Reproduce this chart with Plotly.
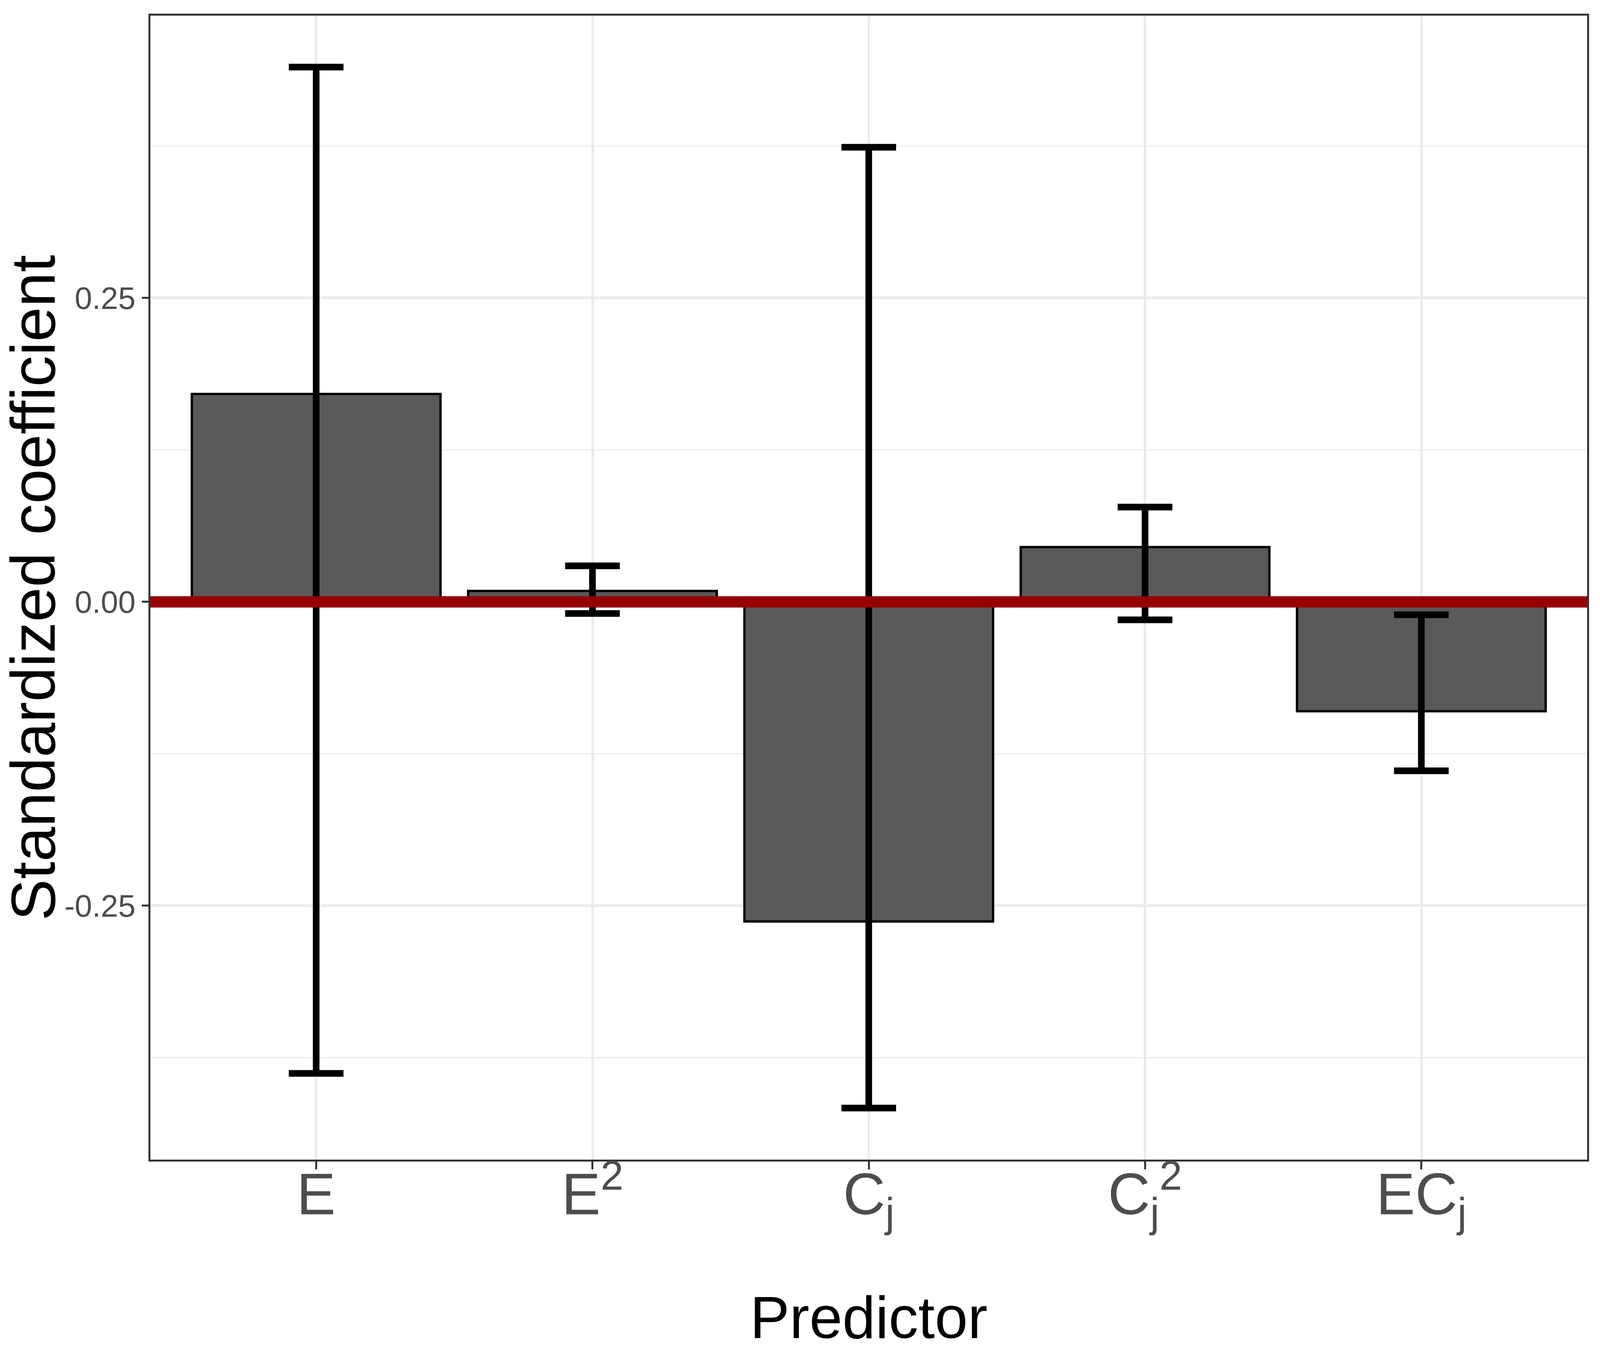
#standardized coefficients bar chart

import plotly.graph_objects as go

predictors = ["E", "E2", "Cj", "Cj2", "ECj"]
tick_labels = ["E", "E<sup>2</sup>", "C<sub>j</sub>", "C<sub>j</sub><sup>2</sup>", "EC<sub>j</sub>"]
coef = [0.171, 0.009, -0.263, 0.045, -0.090]
ci_high = [0.440, 0.0296, 0.374, 0.078, -0.0106]
ci_low = [-0.388, -0.0096, -0.4165, -0.0148, -0.139]

y_ticks = [-0.25, 0.0, 0.25]
y_tick_text = ["-0.25", "0.00", "0.25"]
y_minor = [-0.375, -0.125, 0.125, 0.375]
y_title = "Standardized coefficient"


def main():
        err_up = [h - c for h, c in zip(ci_high, coef)]
        err_down = [c - l for c, l in zip(coef, ci_low)]

        fig = go.Figure()
        fig.add_trace(go.Bar(
                x=predictors, y=coef, width=0.9,
                marker=dict(color="#595959", line=dict(color="black", width=6)),
                error_y=dict(type="data", symmetric=False, array=err_up, arrayminus=err_down,
                             color="black", thickness=17, width=70),
                showlegend=False,
        ))

        fig.add_hline(y=0, line=dict(color="#960000", width=29))

        font_family = "Liberation Sans, Arial, sans-serif"
        fig.update_layout(
                margin=dict(l=377, r=25, t=32, b=523),
                plot_bgcolor="white", paper_bgcolor="white",
                font=dict(family=font_family, color="black"),
                bargap=0.1,
        )
        fig.update_xaxes(
                range=[-0.6, 4.6], automargin=False,
                tickmode="array", tickvals=predictors, ticktext=tick_labels,
                tickfont=dict(size=150, color="#4D4D4D"),
                ticks="outside", ticklen=20, tickwidth=5, tickcolor="#333333",
                ticklabelstandoff=-65,
                showgrid=True, gridcolor="#EBEBEB", gridwidth=6,
                showline=True, mirror=True, linecolor="#333333", linewidth=5,
                zeroline=False,
                title=dict(text="Predictor", font=dict(size=152, color="black"), standoff=160),
        )
        fig.update_yaxes(
                range=[-0.4589, 0.4823], automargin=False,
                tickmode="array", tickvals=y_ticks, ticktext=y_tick_text,
                tickfont=dict(size=80, color="#4D4D4D"),
                ticks="outside", ticklen=17, tickwidth=5, tickcolor="#333333",
                showgrid=True, gridcolor="#EBEBEB", gridwidth=7,
                minor=dict(tickmode="array", tickvals=y_minor,
                           showgrid=True, gridcolor="#F0F0F0", gridwidth=3.5, ticks=""),
                showline=True, mirror=True, linecolor="#333333", linewidth=5,
                zeroline=False,
        )

        # y title as annotation so it sits clear of the tick labels
        fig.add_annotation(
                text=y_title, textangle=-90, showarrow=False,
                xref="paper", yref="paper", x=-0.0816, y=0.5,
                xanchor="center", yanchor="middle",
                font=dict(size=160, color="black", family=font_family),
        )

        fig.write_html("out.html")


if __name__ == '__main__':
        main()
